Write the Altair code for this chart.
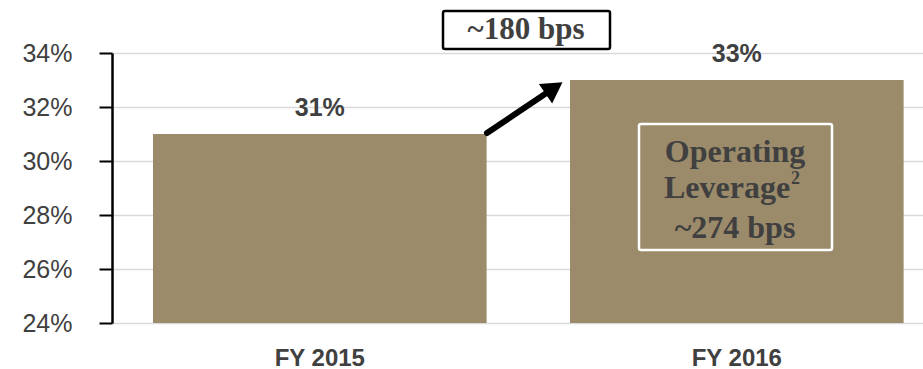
import altair as alt
import pandas as pd

categories = ["FY 2015", "FY 2016"]
values = [31, 33]
value_labels = ["31%", "33%"]
y_ticks = [24, 26, 28, 30, 32, 34]
change_label = ["~180 bps"]
inner_lines = ["Operating", "Leverage", "~274 bps"]
superscript = ["2"]

BAR = "#9B8B6A"
TXT = "#404040"

df = pd.DataFrame({"cat": categories, "val": values, "lab": value_labels})
df["base"] = 24

xscale = alt.Scale(paddingInner=0.2, paddingOuter=0.0724, align=0.679)
yscale = alt.Scale(domain=[24, 34], nice=False, zero=False)

base = alt.Chart(df)

bars = base.mark_bar(color=BAR).encode(
    x=alt.X("cat:N", scale=xscale, sort=categories, title=None,
            axis=alt.Axis(domain=False, ticks=False, tickSize=0, labelPadding=23,
                          labelFont="Liberation Sans", labelFontSize=24,
                          labelFontWeight="bold", labelColor=TXT, labelAngle=0,
                          grid=False)),
    y=alt.Y("val:Q", scale=yscale, title=None,
            axis=alt.Axis(values=y_ticks, labelExpr="datum.value + '%'",
                          domainColor="black", domainWidth=2.5,
                          tickColor="black", tickWidth=2, tickSize=13,
                          labelPadding=27, labelFont="Liberation Sans",
                          labelFontSize=25, labelColor=TXT,
                          gridColor="#d9d9d9", gridWidth=1.5)),
    y2="base:Q",
)

bar_text = base.mark_text(font="Liberation Sans", fontSize=25, fontWeight="bold",
                          color=TXT, baseline="alphabetic", dy=-18).encode(
    x=alt.X("cat:N", scale=xscale, sort=categories),
    y=alt.Y("val:Q", scale=yscale),
    text="lab:N",
)

ann_df = pd.DataFrame({"t": change_label})
ann = alt.Chart(ann_df)

box180 = ann.mark_rect(fill="white", stroke="black", strokeWidth=2.5,
                       cornerRadius=2).encode(
    x=alt.value(331), x2=alt.value(498), y=alt.value(-42), y2=alt.value(-4))
text180 = ann.mark_text(font="Liberation Serif", fontSize=31, fontWeight="bold",
                        color=TXT, baseline="alphabetic", align="center").encode(
    x=alt.value(414), y=alt.value(-14), text="t:N")

arrow_line = ann.mark_rule(color="black", strokeWidth=6, strokeCap="round").encode(
    x=alt.value(375), y=alt.value(80), x2=alt.value(436), y2=alt.value(39))
arrow_head = ann.mark_point(shape="triangle-up", filled=True, color="black",
                            size=560, angle=56, opacity=1).encode(
    x=alt.value(442), y=alt.value(35))

inner_box = alt.Chart(pd.DataFrame({"t": superscript})).mark_rect(
    fill=BAR, stroke="white", strokeWidth=2.5, cornerRadius=2).encode(
    x=alt.value(527), x2=alt.value(720), y=alt.value(71), y2=alt.value(197))

line_style = dict(font="Liberation Serif", fontSize=32, fontWeight="bold",
                  color=TXT, baseline="alphabetic")
line1 = alt.Chart(pd.DataFrame({"t": inner_lines[0:1]})).mark_text(
    align="center", **line_style).encode(x=alt.value(623), y=alt.value(109), text="t:N")
line2 = alt.Chart(pd.DataFrame({"t": inner_lines[1:2]})).mark_text(
    align="left", **line_style).encode(x=alt.value(552), y=alt.value(145), text="t:N")
line3 = alt.Chart(pd.DataFrame({"t": inner_lines[2:3]})).mark_text(
    align="center", **line_style).encode(x=alt.value(623), y=alt.value(185), text="t:N")
sup = alt.Chart(pd.DataFrame({"t": superscript})).mark_text(
    font="Liberation Serif", fontSize=18, fontWeight="bold", color=TXT,
    baseline="alphabetic", align="left").encode(
    x=alt.value(679), y=alt.value(131), text="t:N")

chart = alt.layer(bars, bar_text, box180, text180, arrow_line, arrow_head,
                  inner_box, line1, line2, line3, sup).properties(
    width=811, height=270,
    padding={"left": 112, "top": 53, "right": 0, "bottom": 46},
    autosize=alt.AutoSizeParams(type="none"),
).configure_view(stroke=None).configure(background="white")

chart.save("out.html", embed_options={"renderer": "svg", "actions": False})
